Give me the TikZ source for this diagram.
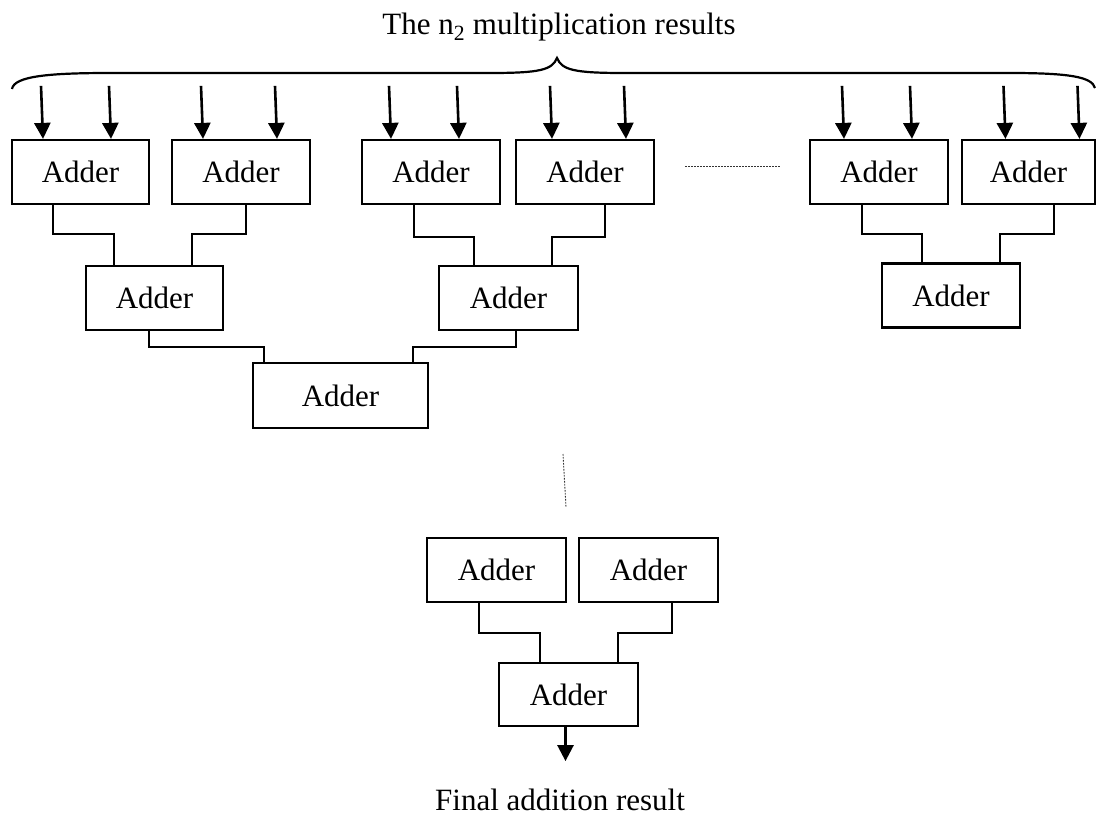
\documentclass[tikz,border=0pt]{standalone}
\usepackage{fontspec}
\setmainfont{Liberation Serif}
\usetikzlibrary{arrows.meta}

\tikzset{
  adder/.style={draw, line width=2.2pt, minimum width=138pt, minimum height=64pt,
                inner sep=0pt, text=black},
  wire/.style={line width=2.2pt, line join=miter},
  arr/.style={line width=2.6pt, -{Triangle[length=16pt,width=16pt]}},
  dotline/.style={line width=0.9pt, dash pattern=on 1.6pt off 1.4pt, black!80},
  brace/.style={line width=2.2pt}
}

\begin{document}
\begin{tikzpicture}[x=1pt, y=-1pt, font=\fontsize{31}{37}\selectfont]
\useasboundingbox (0,0) rectangle (1096,816);

% heading and the brace grouping all inputs
\node[anchor=base] (title) at (559,35) {The n\textsubscript{2} multiplication results};
\draw[brace] (12,89) .. controls (14,76) and (50,73) .. (110,73) -- (490,73)
  .. controls (540,73) and (552,70) .. (557,58)
  .. controls (562,70) and (574,73) .. (624,73) -- (1010,73)
  .. controls (1070,73) and (1092,77) .. (1095,88);

% first row of adders
\node[adder, minimum width=137pt] (b1) at (80.5,172) {Adder};
\node[adder] (b2) at (241,172) {Adder};
\node[adder] (b3) at (431,172) {Adder};
\node[adder] (b4) at (585,172) {Adder};
\node[adder] (b5) at (879,172) {Adder};
\node[adder, minimum width=133pt] (b6) at (1028.5,172) {Adder};

% inputs from the multipliers
\foreach \n/\a/\b in {b1/-37.5/30.5, b2/-38/36, b3/-40/28, b4/-33/41, b5/-35/33, b6/-23/51}{
  \draw[arr] ([shift={(\a-2,-53)}]\n.north) -- ([xshift=\a]\n.north);
  \draw[arr] ([shift={(\b-2,-53)}]\n.north) -- ([xshift=\b]\n.north);
}

% second row
\node[adder, minimum width=137pt] (c1) at (154.5,298) {Adder};
\node[adder, minimum width=139pt] (c2) at (508.5,298) {Adder};
\node[adder] (c3) at (951,295.5) {Adder};

% third row
\node[adder, minimum width=175pt, minimum height=65pt] (d1) at (340.5,395.5) {Adder};

% wiring between rows
\draw[wire] ([xshift=-27.5]b1.south) -- ++(0,29) -| ([xshift=-40.5]c1.north);
\draw[wire] ([xshift=5]b2.south) -- ++(0,29) -| ([xshift=37.5]c1.north);
\draw[wire] ([xshift=-17]b3.south) -- ++(0,32) -| ([xshift=-34.5]c2.north);
\draw[wire] ([xshift=20]b4.south) -- ++(0,32) -| ([xshift=43.5]c2.north);
\draw[wire] ([xshift=-17]b5.south) -- ++(0,29) -| ([xshift=-29]c3.north);
\draw[wire] ([xshift=25.5]b6.south) -- ++(0,29) -| ([xshift=49]c3.north);
\draw[wire] ([xshift=-5.5]c1.south) -- ++(0,16) -| ([xshift=-76.5]d1.north);
\draw[wire] ([xshift=7.5]c2.south) -- ++(0,16) -| ([xshift=72.5]d1.north);

% omitted adders
\draw[dotline] (685,166) -- (780,166);
\draw[dotline] (563,454) -- (566,507);

% last stage
\node[adder, minimum width=139pt] (e1) at (496.5,570) {Adder};
\node[adder, minimum width=139pt] (e2) at (648.5,570) {Adder};
\node[adder, minimum width=139pt, minimum height=63pt] (f) at (568.5,694.5) {Adder};
\draw[wire] ([xshift=-17.5]e1.south) -- ++(0,30) -| ([xshift=-28.5]f.north);
\draw[wire] ([xshift=23.5]e2.south) -- ++(0,30) -| ([xshift=49.5]f.north);

% output
\draw[arr] ([xshift=-3]f.south) -- ++(0,34) coordinate (out);
\node[anchor=base] (final) at (560,810) {Final addition result};
\end{tikzpicture}
\end{document}
